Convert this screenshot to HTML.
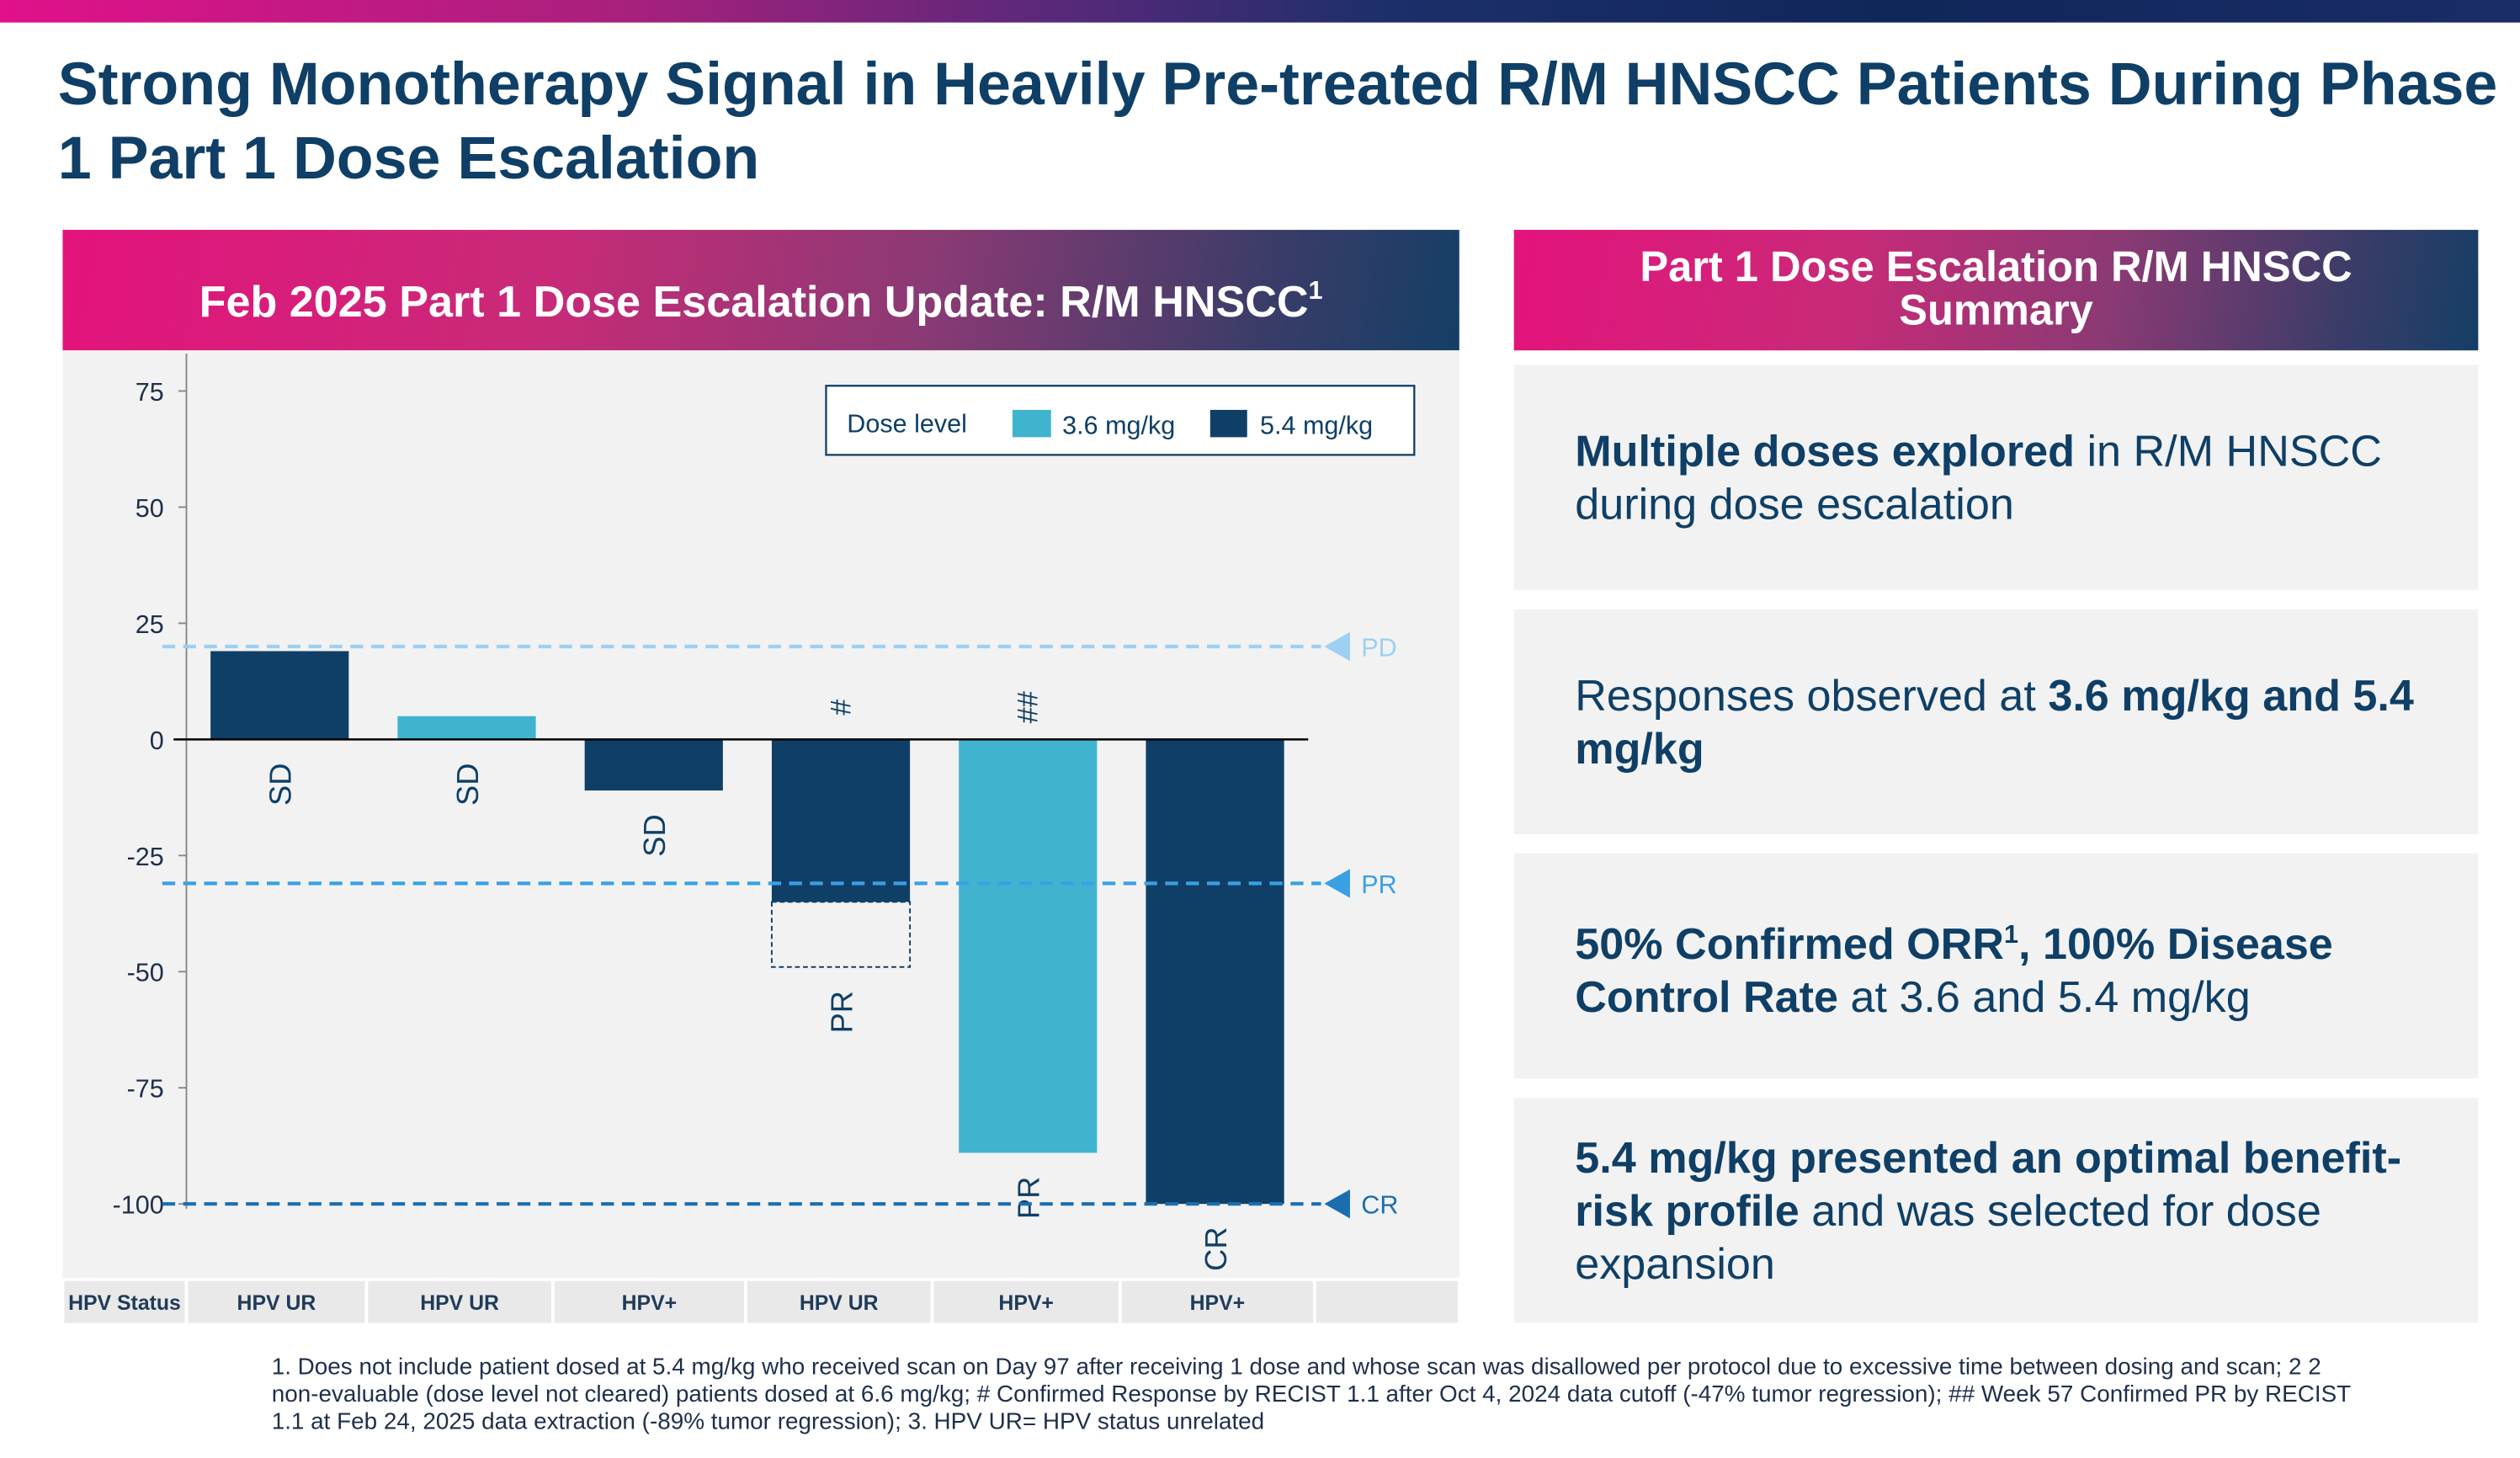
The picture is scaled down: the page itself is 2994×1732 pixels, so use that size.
<!DOCTYPE html>
<html><head><meta charset="utf-8">
<style>
html,body{margin:0;padding:0;background:#fff;}
body{width:2994px;height:1732px;overflow:hidden;position:relative;font-family:"Liberation Sans",Arial,sans-serif;}
#wrap{position:absolute;left:0;top:0;width:1568px;height:907px;transform:scale(1.90944);transform-origin:0 0;}
.abs{position:absolute;}
.topbar{left:0;top:0;width:1568px;height:13.5px;background:linear-gradient(90deg,#e0118a 0%,#a8207e 25%,#4a2a78 45%,#1d2f6a 55%,#10275a 75%,#1a2c66 100%);}
.title{left:36px;top:29px;white-space:nowrap;font-weight:bold;font-size:37.6px;line-height:46px;color:#0f3f66;}
.hdr{background:linear-gradient(100deg,#e4137c 0%,#c82a78 35%,#8a3a74 62%,#3d3c68 85%,#143e66 100%);color:#fff;font-weight:bold;text-align:center;}
.box{background:#f2f2f2;color:#0f3f66;font-size:27.3px;line-height:33px;}
.box div{position:absolute;left:38px;right:30px;top:50%;transform:translateY(-50%);}
.foot{left:169px;top:843px;white-space:nowrap;font-size:14.6px;line-height:17px;color:#1f2f4a;}
</style></head>
<body>
<div id="wrap">
<div class="abs topbar"></div>
<div class="abs title">Strong Monotherapy Signal in Heavily Pre-treated R/M HNSCC Patients During Phase<br>1 Part 1 Dose Escalation</div>

<div class="abs hdr" style="left:39px;top:143px;width:869px;height:75px;font-size:27.3px;line-height:77px;">Feb 2025 Part 1 Dose Escalation Update: R/M HNSCC<sup style="font-size:16px;vertical-align:11px;">1</sup></div>
<div class="abs" style="left:39px;top:218px;width:869px;height:577px;background:#f2f2f2;"></div>

<svg class="abs" id="chart" style="left:0;top:0" width="1568" height="907" viewBox="0 0 1568 907"></svg>

<div class="abs hdr" style="left:942px;top:143px;width:600px;height:75px;font-size:26.5px;line-height:27px;padding-top:10px;box-sizing:border-box;">Part 1 Dose Escalation R/M HNSCC<br>Summary</div>
<div class="abs box" style="left:942px;top:227px;width:600px;height:140px;"><div><b>Multiple doses explored</b> in R/M HNSCC during dose escalation</div></div>
<div class="abs box" style="left:942px;top:379px;width:600px;height:140px;"><div>Responses observed at <b>3.6 mg/kg and 5.4 mg/kg</b></div></div>
<div class="abs box" style="left:942px;top:531px;width:600px;height:140px;"><div><b>50% Confirmed ORR<sup style="font-size:16px;vertical-align:10px;">1</sup>, 100% Disease Control Rate</b> at 3.6 and 5.4 mg/kg</div></div>
<div class="abs box" style="left:942px;top:683px;width:600px;height:140px;"><div><b>5.4 mg/kg presented an optimal benefit-risk profile</b> and was selected for dose expansion</div></div>

<div class="abs foot">1. Does not include patient dosed at 5.4 mg/kg who received scan on Day 97 after receiving 1 dose and whose scan was disallowed per protocol due to excessive time between dosing and scan; 2 2<br>non-evaluable (dose level not cleared) patients dosed at 6.6 mg/kg; # Confirmed Response by RECIST 1.1 after Oct 4, 2024 data cutoff (-47% tumor regression); ## Week 57 Confirmed PR by RECIST<br>1.1 at Feb 24, 2025 data extraction (-89% tumor regression); 3. HPV UR= HPV status unrelated</div>
</div>

<script>
const values = [19, 5, -11, -35, -89, -100];
const doses = ['5.4', '3.6', '5.4', '5.4', '3.6', '5.4'];
const responses = ['SD', 'SD', 'SD', 'PR', 'PR', 'CR'];
const markers = ['', '', '', '#', '##', ''];
const hpvStatus = ['HPV UR', 'HPV UR', 'HPV+', 'HPV UR', 'HPV+', 'HPV+'];
const priorValues = [null, null, null, -49, null, null];
const yTicks = [75, 50, 25, 0, -25, -50, -75, -100];
const thresholds = [20, -31, -100];
const thresholdLabels = ['PD', 'PR', 'CR'];

const svg = document.getElementById('chart');
const NS = 'http://www.w3.org/2000/svg';
const y = v => 460 - v * 2.89;
const x = i => 174 + i * 116.4;
const BW = 86;
const DARK = '#0f3f66', LIGHT = '#40b4ce';
function mk(tag, attrs, txt){const e=document.createElementNS(NS,tag);for(const k in attrs)e.setAttribute(k,attrs[k]);if(txt!=null)e.textContent=txt;svg.appendChild(e);return e;}

let ax = mk('line',{x1:116,y1:220,x2:116,y2:752,stroke:'#888','stroke-width':1});


yTicks.forEach(t=>{
  let tk = mk('line',{x1:111,y1:y(t),x2:116,y2:y(t),stroke:'#888','stroke-width':1});
  
  
  let tl = mk('text',{x:102,y:y(t)+6,'text-anchor':'end','font-size':16,fill:'#1f2f4a','font-family':'Liberation Sans, sans-serif'},String(t));
  
  
});

values.forEach((v,i)=>{
  const top = Math.min(y(v), y(0)), h = Math.abs(y(v)-y(0));
  let b = mk('rect',{x:x(i)-BW/2,y:top,width:BW,height:h,fill:doses[i]==='3.6'?LIGHT:DARK});
  
  
  let end = y(v);
  if(priorValues[i]!=null){
    let d = mk('rect',{x:x(i)-BW/2,y:y(v),width:BW,height:y(priorValues[i])-y(v),fill:'none',stroke:DARK,'stroke-width':1,'stroke-dasharray':'3,2'});
    
    
    end = y(priorValues[i]);
  }
  const cy = Math.max(end, y(0)) + 28;
  let lb = mk('text',{x:0,y:0,'text-anchor':'middle','font-size':19,fill:DARK,'font-family':'Liberation Sans, sans-serif',transform:`translate(${x(i)+7},${cy}) rotate(-90)`},responses[i]);
  
  
  if(markers[i]){
    let m = mk('text',{x:0,y:0,'text-anchor':'middle','font-size':18,fill:DARK,'font-family':'Liberation Sans, sans-serif',transform:`translate(${x(i)+6},${y(0)-20}) rotate(-90)`},markers[i]);
    
    
  }
});
let zl = mk('line',{x1:108,y1:y(0),x2:814,y2:y(0),stroke:'#000','stroke-width':1.3});



const tColors = ['#9dd0f2','#3aa0e6','#1a6eb0'];
thresholds.forEach((t,k)=>{
  let l = mk('line',{x1:101,y1:y(t),x2:822,y2:y(t),stroke:tColors[k],'stroke-width':2.2,'stroke-dasharray':'8,5'});
  
  
  let tri = mk('polygon',{points:`${824},${y(t)} ${840},${y(t)-9} ${840},${y(t)+9}`,fill:tColors[k]});
  
  
  let tx = mk('text',{x:847,y:y(t)+6,'font-size':16,fill:tColors[k],'font-family':'Liberation Sans, sans-serif'},thresholdLabels[k]);
  
  
});

let lg = mk('rect',{x:514,y:240,width:366,height:43,fill:'#fff',stroke:DARK,'stroke-width':1.2});


let lt = mk('text',{x:527,y:269,'font-size':16,fill:DARK,'font-family':'Liberation Sans, sans-serif'},'Dose level');


let s1 = mk('rect',{x:630,y:255,width:24,height:17,fill:LIGHT});


let t1 = mk('text',{x:661,y:270,'font-size':16,fill:DARK,'font-family':'Liberation Sans, sans-serif'},'3.6 mg/kg');


let s2 = mk('rect',{x:753,y:255,width:23,height:17,fill:DARK});


let t2 = mk('text',{x:784,y:270,'font-size':16,fill:DARK,'font-family':'Liberation Sans, sans-serif'},'5.4 mg/kg');



const cellEdges = [39,116,228,344,464,580,697,818,908];
const cellTexts = ['HPV Status'].concat(hpvStatus).concat(['']);
for(let c=0;c<cellEdges.length-1;c++){
  let r = mk('rect',{x:cellEdges[c]+1,y:797,width:cellEdges[c+1]-cellEdges[c]-2,height:26,fill:'#e9e9e9'});
  
  
  if(cellTexts[c]){
    let t = mk('text',{x:(cellEdges[c]+cellEdges[c+1])/2,y:815,'text-anchor':'middle','font-size':13,'font-weight':'bold',fill:'#1f3b5a','font-family':'Liberation Sans, sans-serif'},cellTexts[c]);
    
    
  }
}
</script>
</body></html>
